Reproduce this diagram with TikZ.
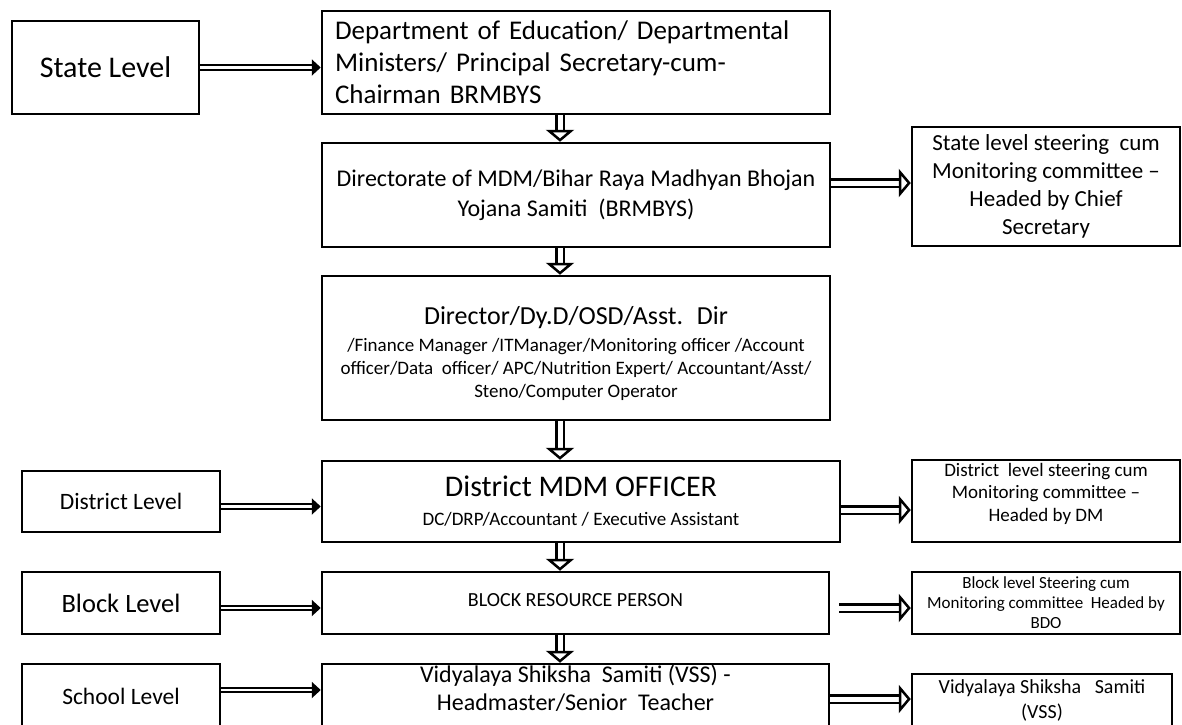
\documentclass[tikz,border=0pt]{standalone}
\usepackage{fontspec}
\setmainfont{Carlito}
\usetikzlibrary{arrows.meta}

\begin{document}
\begin{tikzpicture}[x=1pt,y=-1pt,
box/.style ={rectangle, draw=black, line width=2.5pt, inner sep=0pt,
  align=center
},
link/.style ={double, double distance=2.5pt, line width=2pt,
  -{Triangle[length=9pt,width=16pt]}
},
flow/.style ={double, double distance=5pt, line width=2.5pt,
  -{Triangle[open,length=12pt,width=28pt]}
}]
\clip (0,0) rectangle (1182,724);
\fill[white] (0,0) rectangle (1182,724);

% level boxes
\node (state) at (105.5,67.5) [box, minimum width=187pt, minimum height=93pt,
  font=\fontsize{30}{34}\selectfont] {State Level};
\node (dl) at (121,501.5) [box, minimum width=198pt, minimum height=61pt,
  font=\fontsize{23.5}{27}\selectfont] {District Level};
\node (bl) at (121,603) [box, minimum width=198pt, minimum height=62pt,
  font=\fontsize{26.5}{30}\selectfont] {Block Level};
\node (sl) at (121,696) [box, minimum width=198pt, minimum height=64pt,
  font=\fontsize{23.5}{27}\selectfont] {School Level};

% main chain
\node (dept) at (576,62.5) [box, minimum width=508pt, minimum height=103pt,
  text width=482pt, align=left, font=\fontsize{27}{32}\selectfont]
  {Department of Education/ Departmental\\ Ministers/ Principal Secretary-cum-\\ Chairman BRMBYS};
\node (dte) at (576,195) [box, minimum width=508pt, minimum height=104pt,
  font=\fontsize{24}{30}\selectfont]
  {Directorate of MDM/Bihar Raya Madhyan Bhojan\\ Yojana Samiti~ (BRMBYS)};
\node (dir) at (576,348) [box, minimum width=508pt, minimum height=144pt,
  font=\fontsize{19}{23}\selectfont]
  {\rule{0pt}{30pt}\fontsize{26}{30}\selectfont Director/Dy.D/OSD/Asst.~ Dir\\[4pt]
   /Finance Manager /ITManager/Monitoring officer /Account\\
   officer/Data~ officer/ APC/Nutrition Expert/ Accountant/Asst/\\
   Steno/Computer Operator};
\node (mdm) at (581,501.5) [box, minimum width=518pt, minimum height=81pt,
  font=\fontsize{19}{23}\selectfont]
  {\fontsize{30}{32}\selectfont District MDM OFFICER\\[6pt]
   DC/DRP/Accountant / Executive Assistant};
\node (brp) at (575.5,603) [box, minimum width=507pt, minimum height=62pt,
  font=\fontsize{20}{24}\selectfont] {\raisebox{6pt}{BLOCK RESOURCE PERSON}};
\node (vss) at (575.5,695) [box, minimum width=507pt, minimum height=62pt,
  font=\fontsize{24}{28}\selectfont]
  {Vidyalaya Shiksha~ Samiti (VSS) -\\ Headmaster/Senior~ Teacher\rule[-14pt]{0pt}{0pt}};

% committees
\node (stc) at (1046,186.5) [box, minimum width=268pt, minimum height=119pt,
  font=\fontsize{23}{28}\selectfont]
  {State level steering~ cum\\ Monitoring committee --\\ Headed by Chief\\ Secretary};
\node (dsc) at (1046,501) [box, minimum width=268pt, minimum height=82pt,
  font=\fontsize{19}{22.5}\selectfont]
  {District~ level steering cum\\ Monitoring committee --\\ Headed by DM\rule[-18pt]{0pt}{0pt}};
\node (bsc) at (1046,603) [box, minimum width=268pt, minimum height=62pt,
  font=\fontsize{17}{20}\selectfont]
  {Block level Steering cum\\ Monitoring committee~ Headed by\\ BDO};
\node (vsc) at (1042,700) [box, minimum width=260pt, minimum height=52pt,
  font=\fontsize{20}{25}\selectfont]
  {Vidyalaya Shiksha~~ Samiti\\ (VSS)};

% arrows
\draw[link] (state.east) -- (state.east -| dept.west);
\draw[link] ([yshift=-5pt]dl.east) -- ([yshift=-5pt]dl.east -| mdm.west);
\draw[link] ([yshift=-5pt]bl.east) -- ([yshift=-5pt]bl.east -| brp.west);
\draw[link] ([yshift=6pt]sl.east) -- ([yshift=6pt]sl.east -| vss.west);

\draw[flow] ([xshift=-16pt]dept.south) -- ([xshift=-16pt]dte.north);
\draw[flow] ([xshift=-16pt]dte.south) -- ([xshift=-16pt]dir.north);
\draw[flow] ([xshift=-16pt]dir.south) -- ([xshift=-21pt]mdm.north);
\draw[flow] ([xshift=-21pt]mdm.south) -- ([xshift=-15.5pt]brp.north);
\draw[flow] ([xshift=-15.5pt]brp.south) -- ([xshift=-15.5pt]vss.north);

\draw[flow] ([yshift=12pt]dte.east) -- ([yshift=12pt]dte.east -| stc.west);
\draw[flow] ([yshift=-8.5pt]mdm.east) -- ([yshift=-8.5pt]mdm.east -| dsc.west);
\draw[flow] ([xshift=9pt,yshift=-5pt]brp.east) -- ([yshift=-5pt]brp.east -| bsc.west);
\draw[flow] ([yshift=-4pt]vss.east) -- ([yshift=-4pt]vss.east -| vsc.west);
\end{tikzpicture}
\end{document}
